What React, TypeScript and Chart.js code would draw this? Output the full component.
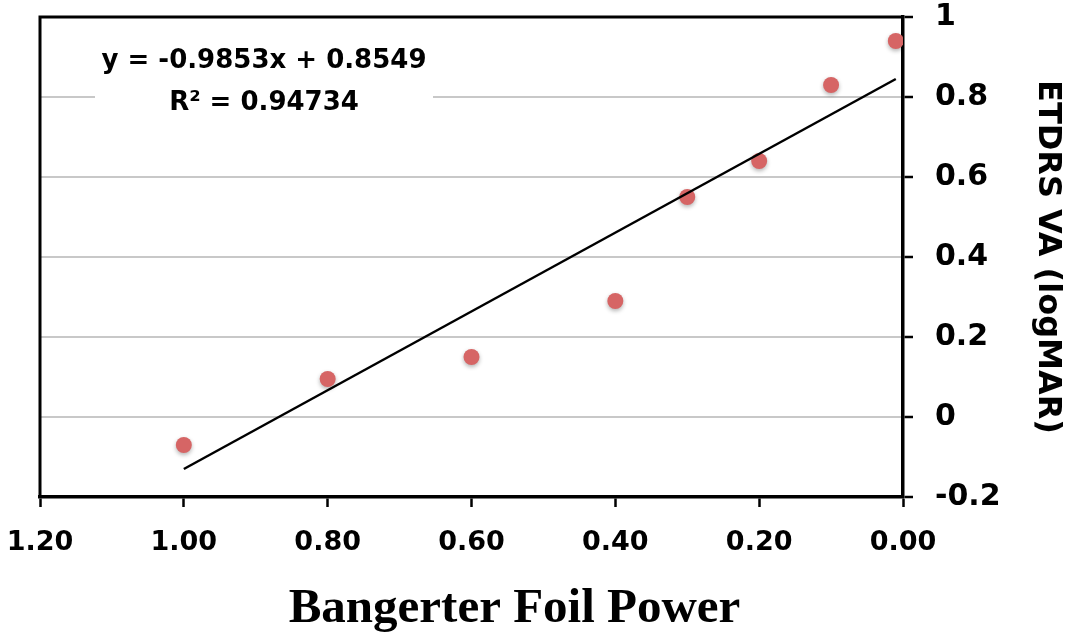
import React, { useEffect, useRef } from "react";
import { Chart, registerables } from "chart.js";

Chart.register(...registerables);

// ---- data ----
const powerX = [1.0, 0.8, 0.6, 0.4, 0.3, 0.2, 0.1, 0.01];
const vaY = [-0.07, 0.095, 0.15, 0.29, 0.55, 0.64, 0.83, 0.94];
const trendX = [1.0, 0.01];
const trendY = [-0.13, 0.845];
const xTickValues = [0, 0.2, 0.4, 0.6, 0.8, 1.0, 1.2];
const xTickLabels = ["0.00", "0.20", "0.40", "0.60", "0.80", "1.00", "1.20"];
const yTickValues = [-0.2, 0, 0.2, 0.4, 0.6, 0.8, 1];
const yTickLabels = ["-0.2", "0", "0.2", "0.4", "0.6", "0.8", "1"];
const equationLines = ["y = -0.9853x + 0.8549", "R\u00B2 = 0.94734"];
const xTitle = "Bangerter Foil Power";
const yTitle = "ETDRS VA (logMAR)";

const SANS = "'DejaVu Sans', sans-serif";

const decorPlugin = {
  id: "decor",
  beforeDatasetsDraw(chart: any) {
    const { ctx, chartArea } = chart;
    const { left, top, right, bottom } = chartArea;
    ctx.save();
    // equation label box (white background hides gridline)
    ctx.fillStyle = "#ffffff";
    ctx.fillRect(left + 55, top + 18, 338, 100);
    ctx.fillStyle = "#000000";
    ctx.font = `bold 26px ${SANS}`;
    ctx.textAlign = "center";
    ctx.textBaseline = "alphabetic";
    const cx = left + 224;
    ctx.fillText(equationLines[0], cx, top + 51);
    ctx.fillText(equationLines[1], cx, top + 93);
    // frame: left and top lines
    ctx.strokeStyle = "#000000";
    ctx.lineWidth = 3;
    ctx.beginPath();
    ctx.moveTo(left, bottom);
    ctx.lineTo(left, top);
    ctx.lineTo(right, top);
    ctx.stroke();
    ctx.restore();
  },
  beforeDatasetDraw(chart: any, args: any) {
    if (args.index === 1) {
      const ctx = chart.ctx;
      ctx.save();
      ctx.shadowColor = "rgba(0,0,0,0.3)";
      ctx.shadowBlur = 4;
      ctx.shadowOffsetY = 2;
    }
  },
  afterDatasetDraw(chart: any, args: any) {
    if (args.index === 1) chart.ctx.restore();
  },
  afterDraw(chart: any) {
    const { ctx, chartArea } = chart;
    ctx.save();
    ctx.fillStyle = "#000000";
    ctx.font = "bold 49px 'Liberation Serif', serif";
    ctx.textAlign = "center";
    ctx.textBaseline = "alphabetic";
    ctx.fillText(xTitle, (chartArea.left + chartArea.right) / 2 + 43, 622);
    ctx.restore();
  },
};

export default function App() {
  const ref = useRef<HTMLCanvasElement | null>(null);

  useEffect(() => {
    if (!ref.current) return;
    const chart = new Chart(ref.current, {
      type: "scatter",
      data: {
        datasets: [
          {
            type: "line",
            label: "Trend",
            data: trendX.map((x, i) => ({ x, y: trendY[i] })),
            borderColor: "#000000",
            borderWidth: 2.5,
            pointRadius: 0,
            fill: false,
            showLine: true,
          } as any,
          {
            label: "VA",
            data: powerX.map((x, i) => ({ x, y: vaY[i] })),
            backgroundColor: "#d66565",
            borderColor: "#d66565",
            pointRadius: 8,
            pointHoverRadius: 8,
            borderWidth: 0,
          },
        ],
      },
      options: {
        animation: false,
        responsive: false,
        events: [],
        layout: { padding: { left: 40, top: 17, right: 0, bottom: 0 } },
        plugins: {
          legend: { display: false },
          tooltip: { enabled: false },
        },
        scales: {
          x: {
            type: "linear",
            position: "bottom",
            reverse: true,
            min: 0,
            max: 1.2,
            afterFit: (s: any) => {
              s.height = 138;
              s.paddingLeft = 0;
              s.paddingRight = 0;
            },
            afterBuildTicks: (s: any) => {
              s.ticks = xTickValues.map((v) => ({ value: v }));
            },
            ticks: {
              autoSkip: false,
              maxRotation: 0,
              color: "#000000",
              padding: 20,
              font: { family: SANS, weight: "bold", size: 27 },
              callback: (v: any) => {
                const i = xTickValues.findIndex((t) => Math.abs(t - v) < 1e-6);
                return i >= 0 ? xTickLabels[i] : "";
              },
            },
            grid: {
              drawOnChartArea: false,
              drawTicks: true,
              tickLength: 10,
              tickColor: "#000000",
              tickWidth: 2.5,
            },
            border: { display: true, color: "#000000", width: 3.5 },
          },
          y: {
            type: "linear",
            position: "right",
            min: -0.2,
            max: 1,
            afterFit: (s: any) => {
              s.width = 170;
              s.paddingTop = 0;
              s.paddingBottom = 0;
            },
            afterBuildTicks: (s: any) => {
              s.ticks = yTickValues.map((v) => ({ value: v }));
            },
            ticks: {
              autoSkip: false,
              color: "#000000",
              padding: 22,
              font: { family: SANS, weight: "bold", size: 30 },
              callback: (v: any) => {
                const i = yTickValues.findIndex((t) => Math.abs(t - v) < 1e-6);
                return i >= 0 ? yTickLabels[i] : "";
              },
            },
            grid: {
              color: (c: any) => {
                const v = c.tick ? c.tick.value : 0;
                return Math.abs(v - 1) < 1e-6 || Math.abs(v + 0.2) < 1e-6
                  ? "rgba(0,0,0,0)"
                  : "#c8c8c8";
              },
              lineWidth: 2,
              drawTicks: true,
              tickLength: 10,
              tickColor: "#000000",
              tickWidth: 2.5,
            },
            border: { display: true, color: "#000000", width: 3.5 },
            title: {
              display: true,
              text: yTitle,
              color: "#000000",
              font: { family: SANS, weight: "bold", size: 32 },
              padding: { top: 6, bottom: 0 },
            },
          },
        },
      },
      plugins: [decorPlugin],
    });
    return () => chart.destroy();
  }, []);

  return (
    <div style={{ position: "absolute", left: 0, top: 0, width: 1073, height: 635, background: "#ffffff" }}>
      <canvas ref={ref} width={1073} height={635} style={{ display: "block" }} />
    </div>
  );
}
